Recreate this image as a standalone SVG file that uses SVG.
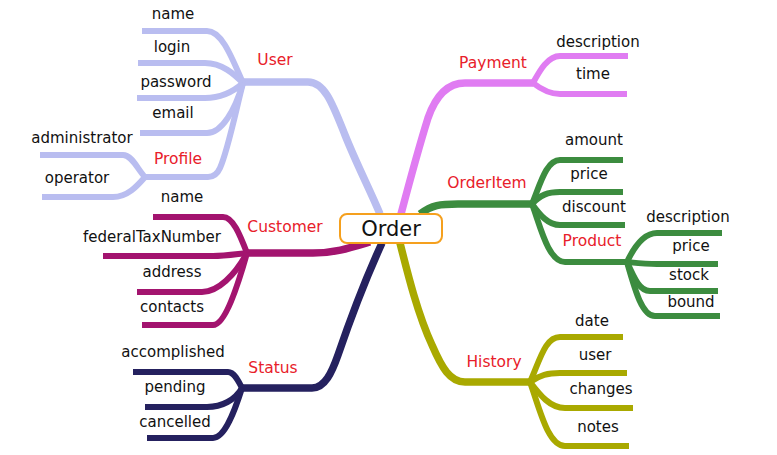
<svg xmlns="http://www.w3.org/2000/svg" width="777" height="455" viewBox="0 0 777 455">
<style>
.b{fill:none;stroke-linecap:butt;stroke-linejoin:round;stroke-width:6}
.t{stroke-width:7.5}
.lav{stroke:#b9bdf0}.pur{stroke:#a3146f}.nav{stroke:#25215f}.vio{stroke:#e07cf2}.grn{stroke:#3c8c3f}.olv{stroke:#a9a900}
text{font-family:"DejaVu Sans",Verdana,sans-serif;font-size:15px;fill:#111;text-anchor:middle}
.r{fill:#e8202a;font-size:15.5px}
</style>
<rect width="777" height="455" fill="#fff"/>
<g id="connectors">
<path class="b t lav" d="M243,82 H308 C325,82 333,105 345,135 C357,165 370,190 380,214"/>
<path class="b lav" d="M142,31 H207 C222,31 232,58 243,83"/>
<path class="b lav" d="M138,63 H205 C222,63 234,74 243,83"/>
<path class="b lav" d="M137,98 H205 C220,98 233,92 243,83"/>
<path class="b lav" d="M140,133 H207 C222,133 235,110 243,83"/>
<path class="b lav" d="M243,83 C236,110 228,150 220,168 Q216,177 208,177 H145"/>
<path class="b lav" d="M40,155 H123 C132,155 138,170 145,177"/>
<path class="b lav" d="M42,197 H113 C128,197 138,185 145,177"/>

<path class="b t pur" d="M247,253 H313 C335,253 350,248 370,242"/>
<path class="b pur" d="M153,217 H223 C233,217 240,235 247,253"/>
<path class="b pur" d="M103,256 H213 C225,256 237,254 247,253"/>
<path class="b pur" d="M137,292 H202 C218,292 235,275 247,253"/>
<path class="b pur" d="M142,325 H213 C225,325 238,285 247,253"/>

<path class="b t nav" d="M242,388 H312 C325,388 332,372 338,355 C350,320 365,280 382,243"/>
<path class="b nav" d="M133,372 H228 C234,372 238,380 242,388"/>
<path class="b nav" d="M145,407 H207 C222,407 235,400 242,388"/>
<path class="b nav" d="M147,438 H213 C225,438 235,410 242,388"/>

<path class="b t vio" d="M401,214 C410,180 418,150 428,118 C436,95 448,83 465,83 H533"/>
<path class="b vio" d="M533,83 C540,70 548,56 560,56 H628"/>
<path class="b vio" d="M533,83 C542,90 550,94 560,94 H627"/>

<path class="b t grn" d="M420,214 C432,205 440,204 458,204 H532"/>
<path class="b grn" d="M532,204 C540,185 546,160 560,160 H623"/>
<path class="b grn" d="M532,204 C540,195 548,192 560,192 H623"/>
<path class="b grn" d="M532,204 C540,215 548,225 560,225 H625"/>
<path class="b grn" d="M532,204 C540,225 548,262 565,262 H627"/>
<path class="b grn" d="M627,262 C635,245 645,233 657,233 H722"/>
<path class="b grn" d="M627,262 C637,263 645,264 657,264 H718"/>
<path class="b grn" d="M627,262 C635,280 640,291 650,291 H718"/>
<path class="b grn" d="M627,262 C635,290 642,316 655,316 H720"/>

<path class="b t olv" d="M400,243 C408,275 418,315 432,345 C442,368 450,382 465,382 H530"/>
<path class="b olv" d="M530,382 C540,360 545,337 560,337 H623"/>
<path class="b olv" d="M530,382 C540,375 548,373 560,373 H627"/>
<path class="b olv" d="M530,382 C540,395 550,408 565,408 H633"/>
<path class="b olv" d="M530,382 C540,410 548,446 565,446 H629"/>
</g>

<g id="order">
<rect x="340" y="214" width="102" height="29" rx="7" fill="#fff" stroke="#f5a01e" stroke-width="2"/>
<text x="391" y="236" style="font-size:21px">Order</text>
</g>
<g id="user"><text class="r" x="275" y="65">User</text>
<text x="173" y="19">name</text><text x="172" y="52">login</text><text x="176" y="87">password</text><text x="173" y="118">email</text></g>
<g id="profile"><text class="r" x="178" y="164">Profile</text>
<text x="82" y="143">administrator</text><text x="77" y="183">operator</text></g>
<g id="customer"><text class="r" x="285" y="232">Customer</text>
<text x="182" y="202">name</text><text x="152" y="242">federalTaxNumber</text><text x="172" y="277">address</text><text x="172" y="312">contacts</text></g>
<g id="status"><text class="r" x="273" y="373">Status</text>
<text x="173" y="357">accomplished</text><text x="175" y="392">pending</text><text x="175" y="427">cancelled</text></g>
<g id="payment"><text class="r" x="493" y="68">Payment</text>
<text x="598" y="47">description</text><text x="593" y="79">time</text></g>
<g id="orderitem"><text class="r" x="487" y="188">OrderItem</text>
<text x="594" y="145">amount</text><text x="589" y="179">price</text><text x="594" y="212">discount</text></g>
<g id="product"><text class="r" x="592" y="246">Product</text>
<text x="688" y="222">description</text><text x="691" y="251">price</text><text x="689" y="280">stock</text><text x="691" y="307">bound</text></g>
<g id="history"><text class="r" x="494" y="367">History</text>
<text x="592" y="326">date</text><text x="595" y="360">user</text><text x="601" y="394">changes</text><text x="598" y="432">notes</text></g>
</svg>
